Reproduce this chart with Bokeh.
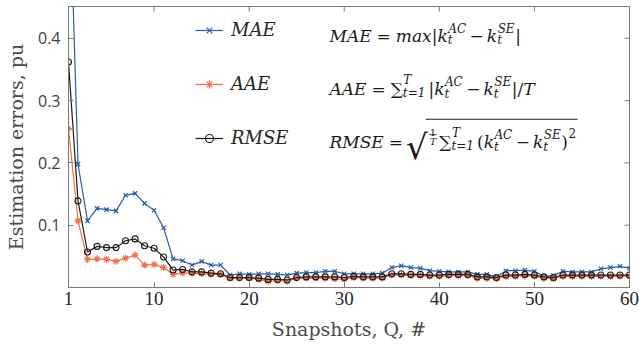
import glob
from bokeh.plotting import figure
from bokeh.models import (Range1d, FixedTicker, Legend, LegendItem, Label, BoxAnnotation)
from bokeh.embed import file_html
from bokeh.resources import INLINE

# ---------------- data ----------------
snapshots = list(range(1, 61))
mae = [0.700, 0.198, 0.107, 0.127, 0.125, 0.123, 0.148, 0.151, 0.135, 0.124,
       0.096, 0.046, 0.043, 0.036, 0.042, 0.036, 0.036, 0.020, 0.022, 0.021,
       0.022, 0.022, 0.021, 0.020, 0.023, 0.024, 0.024, 0.026, 0.026, 0.022,
       0.022, 0.022, 0.022, 0.023, 0.032, 0.035, 0.032, 0.031, 0.027, 0.026,
       0.025, 0.025, 0.025, 0.021, 0.021, 0.017, 0.027, 0.027, 0.028, 0.026,
       0.018, 0.019, 0.026, 0.025, 0.025, 0.025, 0.030, 0.032, 0.034, 0.031]
aae = [0.255, 0.107, 0.045, 0.046, 0.045, 0.042, 0.047, 0.052, 0.036, 0.037,
       0.032, 0.021, 0.023, 0.023, 0.022, 0.021, 0.021, 0.015, 0.015, 0.015,
       0.013, 0.010, 0.011, 0.010, 0.015, 0.015, 0.015, 0.015, 0.014, 0.013,
       0.016, 0.015, 0.015, 0.015, 0.020, 0.020, 0.019, 0.019, 0.018, 0.018,
       0.019, 0.019, 0.019, 0.015, 0.015, 0.014, 0.018, 0.018, 0.019, 0.018,
       0.015, 0.014, 0.018, 0.018, 0.018, 0.018, 0.018, 0.018, 0.018, 0.018]
rmse = [0.362, 0.139, 0.057, 0.066, 0.064, 0.064, 0.075, 0.078, 0.067, 0.063,
        0.049, 0.028, 0.029, 0.025, 0.025, 0.023, 0.022, 0.016, 0.016, 0.016,
        0.015, 0.013, 0.013, 0.012, 0.016, 0.017, 0.017, 0.017, 0.017, 0.016,
        0.018, 0.017, 0.017, 0.017, 0.022, 0.022, 0.021, 0.021, 0.020, 0.020,
        0.021, 0.021, 0.021, 0.017, 0.017, 0.016, 0.020, 0.020, 0.021, 0.020,
        0.017, 0.016, 0.020, 0.020, 0.020, 0.020, 0.020, 0.020, 0.020, 0.020]
series_names = ["MAE", "AAE", "RMSE"]
x_ticks = [1, 10, 20, 30, 40, 50, 60]
y_ticks = [0.1, 0.2, 0.3, 0.4]
x_label = "Snapshots, Q, #"
y_label = "Estimation errors, pu"

# ---------------- style / layout ----------------
BLUE = "#2a5caa"
ORANGE = "#f36f45"
BLACK = "#1a1a1a"
AXC = "#7a7a7a"
TXT = "#262626"

BL, BR, BT = 68, 10, 6
FW, FH = 561, 281
X0, X1 = 1, 60
Y0, Y1 = 0.0, 0.451

p = figure(frame_width=FW, frame_height=FH, output_backend="svg", toolbar_location=None,
           x_range=Range1d(X0, X1), y_range=Range1d(Y0, Y1),
           min_border_left=BL, min_border_right=BR, min_border_top=BT,
           min_border_bottom=56, background_fill_color="white",
           border_fill_color="white")
p.outline_line_color = AXC
p.xgrid.visible = False
p.ygrid.visible = False

# main axes
p.xaxis.ticker = FixedTicker(ticks=x_ticks)
p.yaxis.ticker = FixedTicker(ticks=y_ticks)
for ax in (p.xaxis[0], p.yaxis[0]):
    ax.axis_line_color = AXC
    ax.major_tick_line_color = AXC
    ax.major_tick_in = 5
    ax.major_tick_out = 0
    ax.minor_tick_in = 0
    ax.minor_tick_out = 0
    ax.axis_label_text_font = "DejaVu Serif"
    ax.axis_label_text_font_style = "normal"
    ax.axis_label_text_font_size = "19px"
    ax.axis_label_text_color = "#4a4a4a"
p.xaxis.axis_label = x_label
p.yaxis.axis_label = y_label
p.xaxis.major_label_text_font = "Liberation Serif"
p.xaxis.major_label_text_font_size = "19px"
p.xaxis.major_label_text_color = TXT
p.xaxis.major_label_standoff = 4
p.xaxis.axis_label_standoff = 10
p.yaxis.major_label_text_font = "Open Sans"
p.yaxis.major_label_text_font_size = "16px"
p.yaxis.major_label_text_color = "#404040"
p.yaxis.major_label_standoff = 8
p.yaxis.axis_label_standoff = 8

# mirrored inward ticks on the top and right edges (from the tick arrays)
tick_dy = 5 * (Y1 - Y0) / FH
tick_dx = 5 * (X1 - X0) / FW
p.segment(x0=x_ticks, y0=[Y1] * len(x_ticks), x1=x_ticks, y1=[Y1 - tick_dy] * len(x_ticks),
          line_color=AXC, line_width=1)
p.segment(x0=[X1] * len(y_ticks), y0=y_ticks, x1=[X1 - tick_dx] * len(y_ticks), y1=y_ticks,
          line_color=AXC, line_width=1)

# ---------------- series ----------------
l1 = p.line(snapshots, mae, line_color=BLUE, line_width=1.2)
m1 = p.scatter(snapshots, mae, marker="x", size=6, line_color=BLUE, line_width=1.2)
l2 = p.line(snapshots, aae, line_color=ORANGE, line_width=1.2)
m2 = p.scatter(snapshots, aae, marker="asterisk", size=7, line_color=ORANGE, line_width=1.2)
l3 = p.line(snapshots, rmse, line_color=BLACK, line_width=1.2)
m3 = p.scatter(snapshots, rmse, marker="circle", size=6, line_color=BLACK,
               fill_color=None, line_width=1.1)

legend = Legend(items=[LegendItem(label=series_names[0], renderers=[l1, m1]),
                       LegendItem(label=series_names[1], renderers=[l2, m2]),
                       LegendItem(label=series_names[2], renderers=[l3, m3])],
                location=(127, 139), orientation="vertical",
                label_text_font="DejaVu Serif", label_text_font_style="italic",
                label_text_font_size="18px", label_text_color=TXT,
                glyph_width=28, glyph_height=20, label_height=20, spacing=33,
                label_standoff=8, padding=0, margin=0,
                border_line_alpha=0, background_fill_alpha=0)
p.add_layout(legend)

# ---------------- formulas (text annotations) ----------------
def px2x(px):
    return X0 + (px - BL) / FW * (X1 - X0)

def py2y(py):
    return Y1 - (py - BT) / FH * (Y1 - Y0)

def find_font(name):
    for root in ("/usr/share/fonts", "/usr/local/share/fonts", "/usr/lib/fonts"):
        hits = glob.glob(f"{root}/**/{name}", recursive=True)
        if hits:
            return hits[0]
    return None

FONT_FILES = {"i": find_font("DejaVuSerif-Italic.ttf"), "r": find_font("DejaVuSerif.ttf")}
_cache = {}

def measure(text, style, size):
    path = FONT_FILES.get(style)
    if path:
        try:
            from PIL import ImageFont
            key = (path, size)
            if key not in _cache:
                _cache[key] = ImageFont.truetype(path, size)
            return _cache[key].getlength(text)
        except Exception:
            pass
    return len(text) * 0.62 * size

def put(text, px, base, style, size):
    p.add_layout(Label(x=px2x(px), y=py2y(base), text=text,
                       text_font="DejaVu Serif",
                       text_font_style="italic" if style == "i" else "normal",
                       text_font_size=f"{size}px", text_color=BLACK,
                       text_baseline="alphabetic", text_align="left"))
    return measure(text, style, size)

def hbar(x_a, x_b, py, thick=1.0):
    p.add_layout(BoxAnnotation(left=px2x(x_a), right=px2x(x_b), top=py2y(py),
                               bottom=py2y(py + thick), fill_color=BLACK,
                               fill_alpha=1, line_alpha=0))

S, SS, SF = 17, 12, 10

def flow(tokens, x, base):
    sq = None
    for tok in tokens:
        kind = tok[0]
        if kind in ("i", "r"):
            x += put(tok[1], x, base, kind, S)
        elif kind == "g":
            x += tok[1]
        elif kind == "ss":
            w1 = put(tok[1], x + 0.5, base - 7, "i", SS)
            w2 = put(tok[2], x, base + 4.5, "i", SS)
            x += max(w1, w2) + 1
        elif kind == "sumss":
            w1 = put(tok[1], x + 0.5, base - 9.5, "i", SS)
            w2 = put(tok[2], x, base + 4, "i", SS)
            x += max(w1, w2) + 1
        elif kind == "sup":
            x += put(tok[1], x + 0.5, base - 9, "r", SS) + 1
        elif kind == "sqrt":
            x += put("\u221a", x, base + 4.5, "r", 34) - 2
            sq = x
            x += 3
        elif kind == "frac":
            w = max(measure(tok[1], "r", SF), measure(tok[2], "i", SF))
            put(tok[1], x + 1 + (w - measure(tok[1], "r", SF)) / 2, base - 9.5, "r", SF)
            put(tok[2], x + 1 + (w - measure(tok[2], "i", SF)) / 2, base - 0.5, "i", SF)
            hbar(x + 0.5, x + 1.5 + w, base - 8, 0.8)
            x += w + 4
        elif kind == "endsqrt":
            hbar(sq, x + 1, base - 23.3, 1.0)
    return x

F1 = [("i", "MAE"), ("g", 5), ("r", "="), ("g", 5), ("i", "max"), ("r", "|"), ("i", "k"),
      ("ss", "AC", "t"), ("g", 3), ("r", "\u2212"), ("g", 3), ("i", "k"), ("ss", "SE", "t"),
      ("r", "|")]
F2 = [("i", "AAE"), ("g", 5), ("r", "="), ("g", 5), ("r", "\u2211"), ("sumss", "T", "t=1"),
      ("g", 2), ("r", "|"), ("i", "k"), ("ss", "AC", "t"), ("g", 3), ("r", "\u2212"), ("g", 3),
      ("i", "k"), ("ss", "SE", "t"), ("r", "|/"), ("i", "T")]
F3 = [("i", "RMSE"), ("g", 5), ("r", "="), ("g", 3), ("sqrt",), ("frac", "1", "T"),
      ("r", "\u2211"), ("sumss", "T", "t=1"), ("g", 2), ("r", "("), ("i", "k"),
      ("ss", "AC", "t"), ("g", 3), ("r", "\u2212"), ("g", 3), ("i", "k"), ("ss", "SE", "t"),
      ("r", ")"), ("sup", "2"), ("endsqrt",)]

flow(F1, 329, 35)
flow(F2, 329, 88.5)
flow(F3, 329, 141.5)

open("out.html", "w").write(file_html(p, INLINE))
